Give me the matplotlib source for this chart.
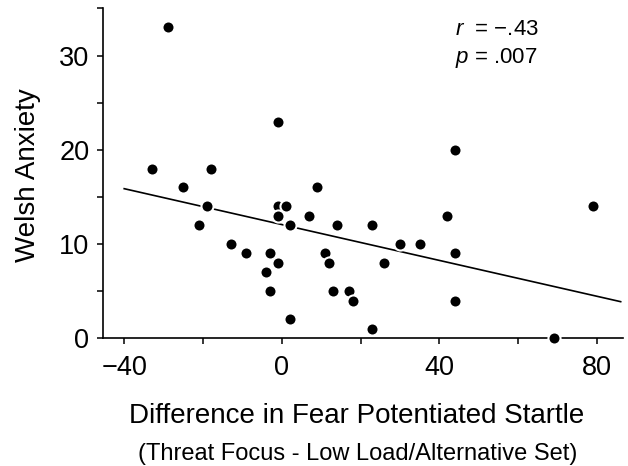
import numpy as np
import matplotlib
matplotlib.use('Agg')
import matplotlib.pyplot as plt
from matplotlib.ticker import MultipleLocator

plt.rcParams['font.family'] = ['Liberation Sans', 'DejaVu Sans']
plt.rcParams['mathtext.fontset'] = 'custom'
plt.rcParams['mathtext.it'] = 'Liberation Sans:italic'
plt.rcParams['mathtext.rm'] = 'Liberation Sans'

# startle difference (x) and Welsh anxiety score (y)
startle_diff = [-29, -33, -25, -18, -19, -21, -13, -9, -1, -1, 1, -1, 2, -3, -1, -4, -3, 2,
                9, 7, 14, 11, 12, 13, 17, 18, 44, 23, 42, 79, 30, 35, 44, 26, 44, 23, 69]
welsh_anxiety = [33, 18, 16, 18, 14, 12, 10, 9, 23, 14, 14, 13, 12, 9, 8, 7, 5, 2,
                 16, 13, 12, 9, 8, 5, 5, 4, 20, 12, 13, 14, 10, 10, 9, 8, 4, 1, 0]

line_x = [-40, 86]
stats_r = '\u2212.43'
stats_p = '.007'

fig = plt.figure(figsize=(6.28, 4.66), dpi=100)
ax = fig.add_axes([0.1645, 0.274, 0.8276, 0.708])

ax.scatter(startle_diff, welsh_anxiety, s=76, color='black', edgecolors='white',
           linewidths=1.5, zorder=3, clip_on=False)

# least squares fit line
slope, intercept = np.polyfit(startle_diff, welsh_anxiety, 1)
lx = np.array(line_x)
ax.plot(lx, slope * lx + intercept, color='black', lw=1.2, zorder=2)

ax.set_xlim(-45.3, 86.6)
ax.set_ylim(0, 35)
ax.xaxis.set_major_locator(MultipleLocator(40))
ax.xaxis.set_minor_locator(MultipleLocator(20))
ax.yaxis.set_major_locator(MultipleLocator(10))
ax.yaxis.set_minor_locator(MultipleLocator(5))
ax.tick_params(which='both', direction='out', length=4, width=1.1, labelsize=19.5)
ax.tick_params(axis='x', pad=8)
ax.tick_params(axis='y', pad=6)

for s in ['top', 'right']:
    ax.spines[s].set_visible(False)
for s in ['left', 'bottom']:
    ax.spines[s].set_linewidth(1.2)

fig.text(0.0438, 0.6234, 'Welsh Anxiety', fontsize=20, rotation=90, ha='center', va='center')
fig.text(0.5685, 0.0923, 'Difference in Fear Potentiated Startle', fontsize=20,
         ha='center', va='baseline')
fig.text(0.569, 0.0129, '(Threat Focus - Low Load/Alternative Set)', fontsize=17,
         ha='center', va='baseline')

ax.text(44.0, 32.2, '$r$  = ' + stats_r, fontsize=16, va='baseline')
ax.text(44.0, 29.2, '$p$ = ' + stats_p, fontsize=16, va='baseline')

fig.savefig('out.png', dpi=100)
